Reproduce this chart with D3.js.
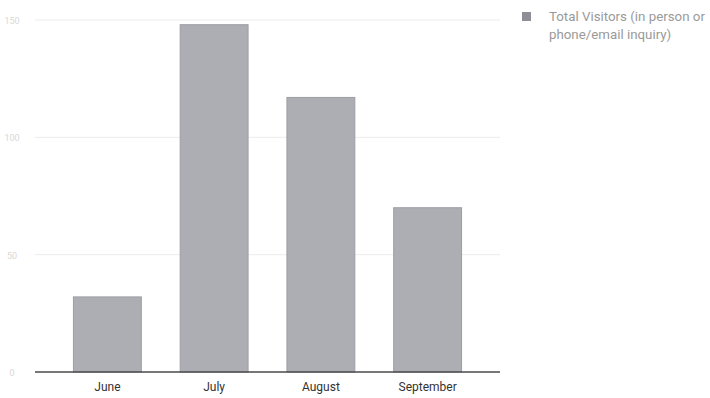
<!DOCTYPE html>
<html><head><meta charset="utf-8">
<script src="https://cdn.jsdelivr.net/npm/d3@7"></script>
<style>body{margin:0;background:#fff}svg{display:block;font-family:Roboto,"Noto Sans",sans-serif}</style>
</head><body><svg id="c" width="710" height="398"></svg>
<script>
const months = ["June", "July", "August", "September"];
const visitors = [32, 148, 117, 70];
const yTicks = [0, 50, 100, 150];
const seriesName = ["Total Visitors (in person or", "phone/email inquiry)"];

const svg = d3.select("#c");
const x = d3.scaleBand().domain(months).range([54, 481]).paddingInner(0.364).paddingOuter(0.182);
const y = d3.scaleLinear().domain([0, 150]).range([372, 20]);

const grid = svg.append("g");
grid.selectAll("line").data(yTicks.filter(d => d > 0)).join("line")
  .attr("x1", 35).attr("x2", 500).attr("y1", d => y(d)).attr("y2", d => y(d))
  .attr("stroke", "#ececec").attr("stroke-width", 1);
grid.selectAll("text").data(yTicks).join("text")
  .attr("x", 12).attr("y", d => y(d) + 4).attr("text-anchor", "middle")
  .attr("font-size", 9).attr("fill", "#d8d8d8").text(d => d);

svg.append("g").selectAll("rect").data(months).join("rect")
  .attr("x", d => x(d)).attr("width", x.bandwidth())
  .attr("y", (d, i) => y(visitors[i])).attr("height", (d, i) => y(0) - y(visitors[i]))
  .attr("fill", "#adaeb4").attr("stroke", "#9d9ea4").attr("stroke-width", 1);

svg.append("line").attr("x1", 35).attr("x2", 500).attr("y1", y(0)).attr("y2", y(0))
  .attr("stroke", "#4a4a4a").attr("stroke-width", 1.5);

const xAxis = svg.append("g").attr("transform", `translate(0,${y(0)})`)
  .call(d3.axisBottom(x).tickSize(0).tickPadding(10));
xAxis.select(".domain").remove();
xAxis.selectAll("text").attr("font-size", 12).attr("fill", "#333").attr("font-family", "Roboto,sans-serif");

const lg = svg.append("g");
lg.append("rect").attr("x", 522).attr("y", 12).attr("width", 9).attr("height", 9).attr("fill", "#8e8f96");
lg.selectAll("text").data(seriesName).join("text")
  .attr("x", 549).attr("y", (d, i) => 21 + i * 18)
  .attr("font-size", 13.3).attr("fill", "#9a9a9a").text(d => d);
</script></body></html>
